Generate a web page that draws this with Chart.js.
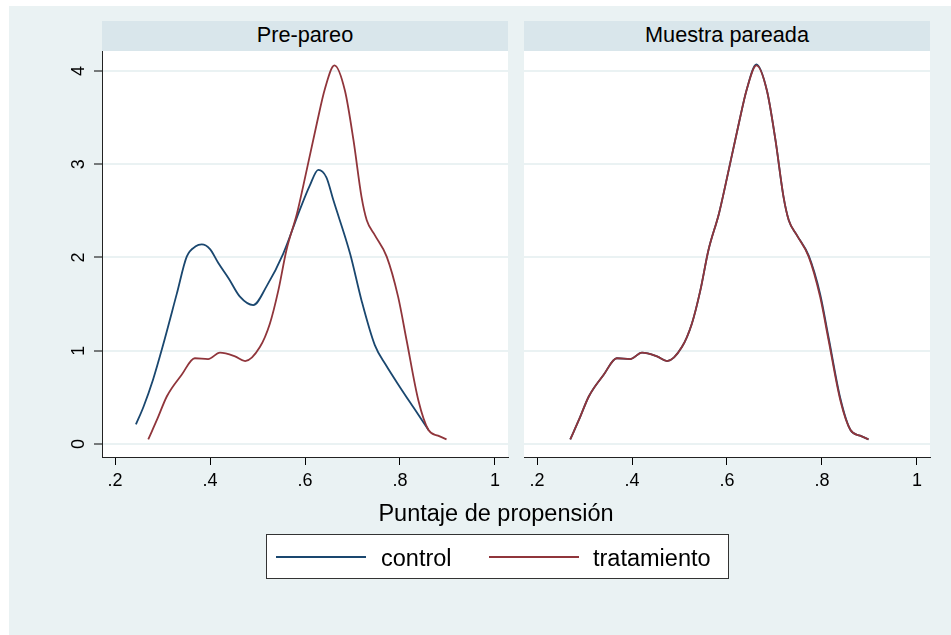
<!DOCTYPE html>
<html>
<head>
<meta charset="utf-8">
<script src="https://cdn.jsdelivr.net/npm/chart.js@4.4.0/dist/chart.umd.min.js"></script>
<style>
    body { margin: 0; width: 951px; height: 635px; background: #fff; position: relative; overflow: hidden;
           font-family: "Liberation Sans", Arial, sans-serif; }
    .bg { position: absolute; left: 9px; top: 6px; right: 0; bottom: 0; background: #eaf2f3; }
    .strip { position: absolute; top: 21px; height: 30px; line-height: 27px; background: #d9e6eb;
             text-align: center; font-size: 21.7px; color: #000; }
    canvas { position: absolute; }
    #xtitle { position: absolute; left: 296px; width: 400px; top: 502px; text-align: center;
              font-size: 23.5px; line-height: 1; color: #000; }
    #legend { position: absolute; left: 266px; top: 534px; width: 463px; height: 45px; box-sizing: border-box;
              background: #fff; border: 1px solid #333; }
    #legend .ln { position: absolute; top: 21px; width: 90px; height: 2px; }
    #legend .lb { position: absolute; top: 12px; font-size: 23.5px; line-height: 1; color: #000; }
</style>
</head>
<body>
<div class="bg"></div>
<div class="strip" style="left:102px;width:406px">Pre-pareo</div>
<div class="strip" style="left:524px;width:406px">Muestra pareada</div>
<canvas id="pre" width="520" height="470" style="left:0;top:41px"></canvas>
<canvas id="post" width="431" height="470" style="left:520px;top:41px"></canvas>
<div id="xtitle">Puntaje de propensión</div>
<div id="legend">
    <span class="ln" style="left:9px;background:#1a476f"></span>
    <span class="lb" style="left:114px">control</span>
    <span class="ln" style="left:222px;background:#90353b"></span>
    <span class="lb" style="left:326px">tratamiento</span>
</div>
<script>
// ticks
const xTicks = [0.2, 0.4, 0.6, 0.8, 1];
const yTicks = [0, 1, 2, 3, 4];

// pre-matching, control group
const ctrlX = [0.244, 0.26, 0.28, 0.30, 0.33, 0.351, 0.37, 0.3825, 0.40, 0.4175, 0.44, 0.463, 0.491, 0.519,
    0.554, 0.589, 0.61, 0.628, 0.645, 0.66, 0.695, 0.719, 0.747, 0.77, 0.80, 0.83, 0.86];
const ctrlY = [0.21, 0.40, 0.69, 1.04, 1.61, 2.01, 2.12, 2.14, 2.09, 1.94, 1.77, 1.58, 1.49, 1.69,
    2.04, 2.51, 2.77, 2.94, 2.86, 2.61, 2.04, 1.54, 1.06, 0.85, 0.61, 0.38, 0.15];

// treatment group
const trtX = [0.270, 0.29, 0.309, 0.340, 0.368, 0.396, 0.421, 0.4526, 0.474, 0.505, 0.526, 0.544, 0.561,
    0.583, 0.596, 0.625, 0.642, 0.662, 0.684, 0.702, 0.719, 0.730, 0.747, 0.772, 0.796, 0.814, 0.8386,
    0.86, 0.88, 0.898];
const trtY = [0.05, 0.28, 0.51, 0.74, 0.92, 0.91, 0.98, 0.94, 0.89, 1.04, 1.29, 1.65, 2.08,
    2.47, 2.76, 3.44, 3.81, 4.06, 3.79, 3.26, 2.65, 2.40, 2.24, 2.01, 1.58, 1.11, 0.47,
    0.15, 0.09, 0.05];

// matched control group (almost on top of treatment)
const matchX = trtX;
const matchY = [0.05, 0.28, 0.51, 0.74, 0.92, 0.91, 0.98, 0.94, 0.89, 1.04, 1.29, 1.65, 2.08,
    2.47, 2.76, 3.44, 3.81, 4.07, 3.79, 3.26, 2.65, 2.40, 2.24, 2.02, 1.61, 1.14, 0.49,
    0.15, 0.09, 0.05];

const BLUE = '#1a476f';
const RED = '#90353b';
const FONT = '"Liberation Sans", Arial, sans-serif';

function points(xs, ys) {
    return xs.map((x, i) => ({ x: x, y: ys[i] }));
}

function series(label, xs, ys, color, order) {
    return {
        label: label,
        data: points(xs, ys),
        borderColor: color,
        borderWidth: 1.8,
        pointRadius: 0,
        showLine: true,
        fill: false,
        cubicInterpolationMode: 'monotone',
        order: order
    };
}

// white plot region + rotated y tick labels
const panelPlugin = {
    id: 'panel',
    beforeDraw(chart) {
        const a = chart.chartArea;
        const ctx = chart.ctx;
        ctx.save();
        ctx.fillStyle = '#fff';
        ctx.fillRect(a.left, a.top, a.right - a.left, a.bottom - a.top);
        ctx.restore();
    },
    afterDraw(chart, args, opts) {
        if (!opts.rotatedTicks) return;
        const ctx = chart.ctx;
        const y = chart.scales.y;
        ctx.save();
        ctx.fillStyle = '#000';
        ctx.font = '18px ' + FONT;
        ctx.textAlign = 'center';
        ctx.textBaseline = 'middle';
        yTicks.forEach(v => {
            ctx.save();
            ctx.translate(chart.chartArea.left - 23.5, y.getPixelForValue(v));
            ctx.rotate(-Math.PI / 2);
            ctx.fillText(String(v), 0, 1);
            ctx.restore();
        });
        ctx.restore();
    }
};

function makePanel(id, datasets, showY, padding) {
    new Chart(document.getElementById(id), {
        type: 'scatter',
        data: { datasets: datasets },
        options: {
            responsive: false,
            animation: false,
            layout: { padding: padding },
            plugins: {
                legend: { display: false },
                tooltip: { enabled: false },
                panel: { rotatedTicks: showY }
            },
            scales: {
                x: {
                    type: 'linear',
                    min: 0.1726,
                    max: 1.0274,
                    afterBuildTicks: s => { s.ticks = xTicks.map(v => ({ value: v })); },
                    afterFit: s => { s.height = 44; },
                    ticks: {
                        color: '#000',
                        font: { family: FONT, size: 18 },
                        padding: 5,
                        maxRotation: 0,
                        callback: v => (v === 1 ? '1' : String(v).replace('0.', '.'))
                    },
                    grid: { drawOnChartArea: false, drawTicks: true, tickLength: 8, tickColor: '#000', tickWidth: 1 },
                    border: { display: true, color: '#222', width: 1 }
                },
                y: {
                    type: 'linear',
                    min: -0.139,
                    max: 4.214,
                    afterBuildTicks: s => { s.ticks = yTicks.map(v => ({ value: v })); },
                    afterFit: s => { s.width = showY ? 42 : 0; },
                    ticks: { display: false },
                    grid: {
                        color: '#eaf2f3',
                        lineWidth: 2,
                        drawTicks: showY,
                        tickLength: 8,
                        tickColor: '#000',
                        tickWidth: 1
                    },
                    border: { display: showY, color: '#222', width: 1 }
                }
            }
        },
        plugins: [panelPlugin]
    });
}

makePanel('pre', [
    series('tratamiento', trtX, trtY, RED, 1),
    series('control', ctrlX, ctrlY, BLUE, 2)
], true, { left: 60, right: 12, top: 10, bottom: 10 });

makePanel('post', [
    series('tratamiento', trtX, trtY, RED, 1),
    series('control', matchX, matchY, BLUE, 2)
], false, { left: 4, right: 21, top: 10, bottom: 10 });
</script>
</body>
</html>
